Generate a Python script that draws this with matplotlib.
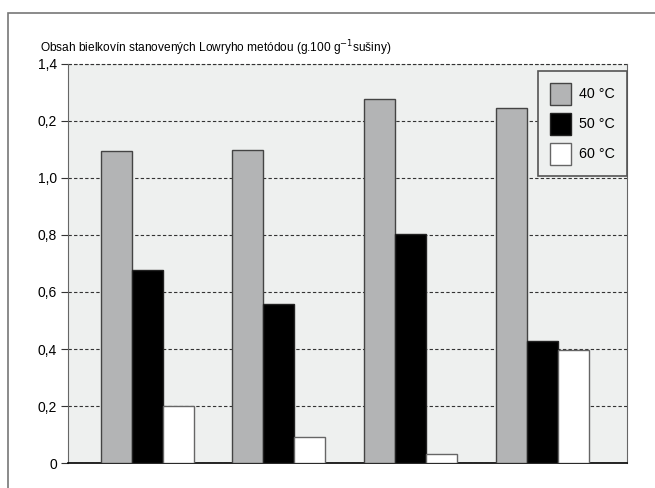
import numpy as np
from matplotlib import pyplot as plt
from matplotlib.patches import Rectangle

# Protein content by Lowry method at three drying temperatures
series = ["40 °C", "50 °C", "60 °C"]
val_40 = [1.095, 1.098, 1.276, 1.246]
val_50 = [0.677, 0.557, 0.803, 0.428]
val_60 = [0.200, 0.090, 0.032, 0.396]
ytick_vals = [0, 0.2, 0.4, 0.6, 0.8, 1.0, 1.2, 1.4]
ytick_labels = ["0", "0,2", "0,4", "0,6", "0,8", "1,0", "0,2", "1,4"]

plt.rcParams['font.family'] = ['Liberation Sans', 'DejaVu Sans']

fig = plt.figure(figsize=(6.55, 4.88), dpi=100)
ax = fig.add_axes([0.1038, 0.0512, 0.8527, 0.8177])

# outer frame of the figure panel
fig.patches.append(Rectangle((8 / 655, -0.1), 1.2, 1 - 13 / 488 + 0.1,
                             transform=fig.transFigure, fill=False,
                             edgecolor="#777777", lw=1.2))

x = np.arange(len(val_40))
w = 0.235
b1 = ax.bar(x - w, val_40, w, color="#b3b4b5", edgecolor="#444444", lw=1, zorder=3)
b2 = ax.bar(x, val_50, w, color="black", edgecolor="#222222", lw=1, zorder=3)
b3 = ax.bar(x + w, val_60, w, color="white", edgecolor="#666666", lw=1, zorder=3)

ax.set_facecolor("#eef0ef")
ax.set_xlim(-0.6, 3.636)
ax.set_ylim(0, 1.4)
ax.set_xticks([])
ax.set_yticks(ytick_vals)
ax.set_yticklabels(ytick_labels, fontsize=10)
ax.tick_params(axis="y", length=5, width=0.8, color="#333333", pad=3)
ax.yaxis.grid(True, linestyle=(0, (3, 2)), color="#333333", lw=0.8, zorder=1)

ax.spines["top"].set_visible(False)
ax.spines["left"].set_color("#666666")
ax.spines["right"].set_color("#666666")
ax.spines["bottom"].set_color("black")
ax.spines["bottom"].set_linewidth(1.2)
ax.axhline(1.4, color="#333333", lw=0.8, linestyle=(0, (3, 2)), clip_on=False, zorder=1)

fig.text(40 / 655, 1 - 48 / 488,
         "Obsah bielkovín stanovených Lowryho metódou (g.100 g$^{-1}$sušiny)",
         fontsize=8.6, va="center", ha="left")

leg = ax.legend([b1, b2, b3], series, loc="upper right",
                bbox_to_anchor=(1.0, 0.982), borderaxespad=0,
                fontsize=10.3, frameon=True, fancybox=False,
                handlelength=1.5, handleheight=2.0, labelspacing=0.55,
                borderpad=0.8, handletextpad=0.55)
leg.get_frame().set_facecolor("#eef0ef")
leg.get_frame().set_edgecolor("#555555")
leg.get_frame().set_linewidth(1.2)
leg.get_frame().set_alpha(1)

plt.savefig("out.png", dpi=100)
